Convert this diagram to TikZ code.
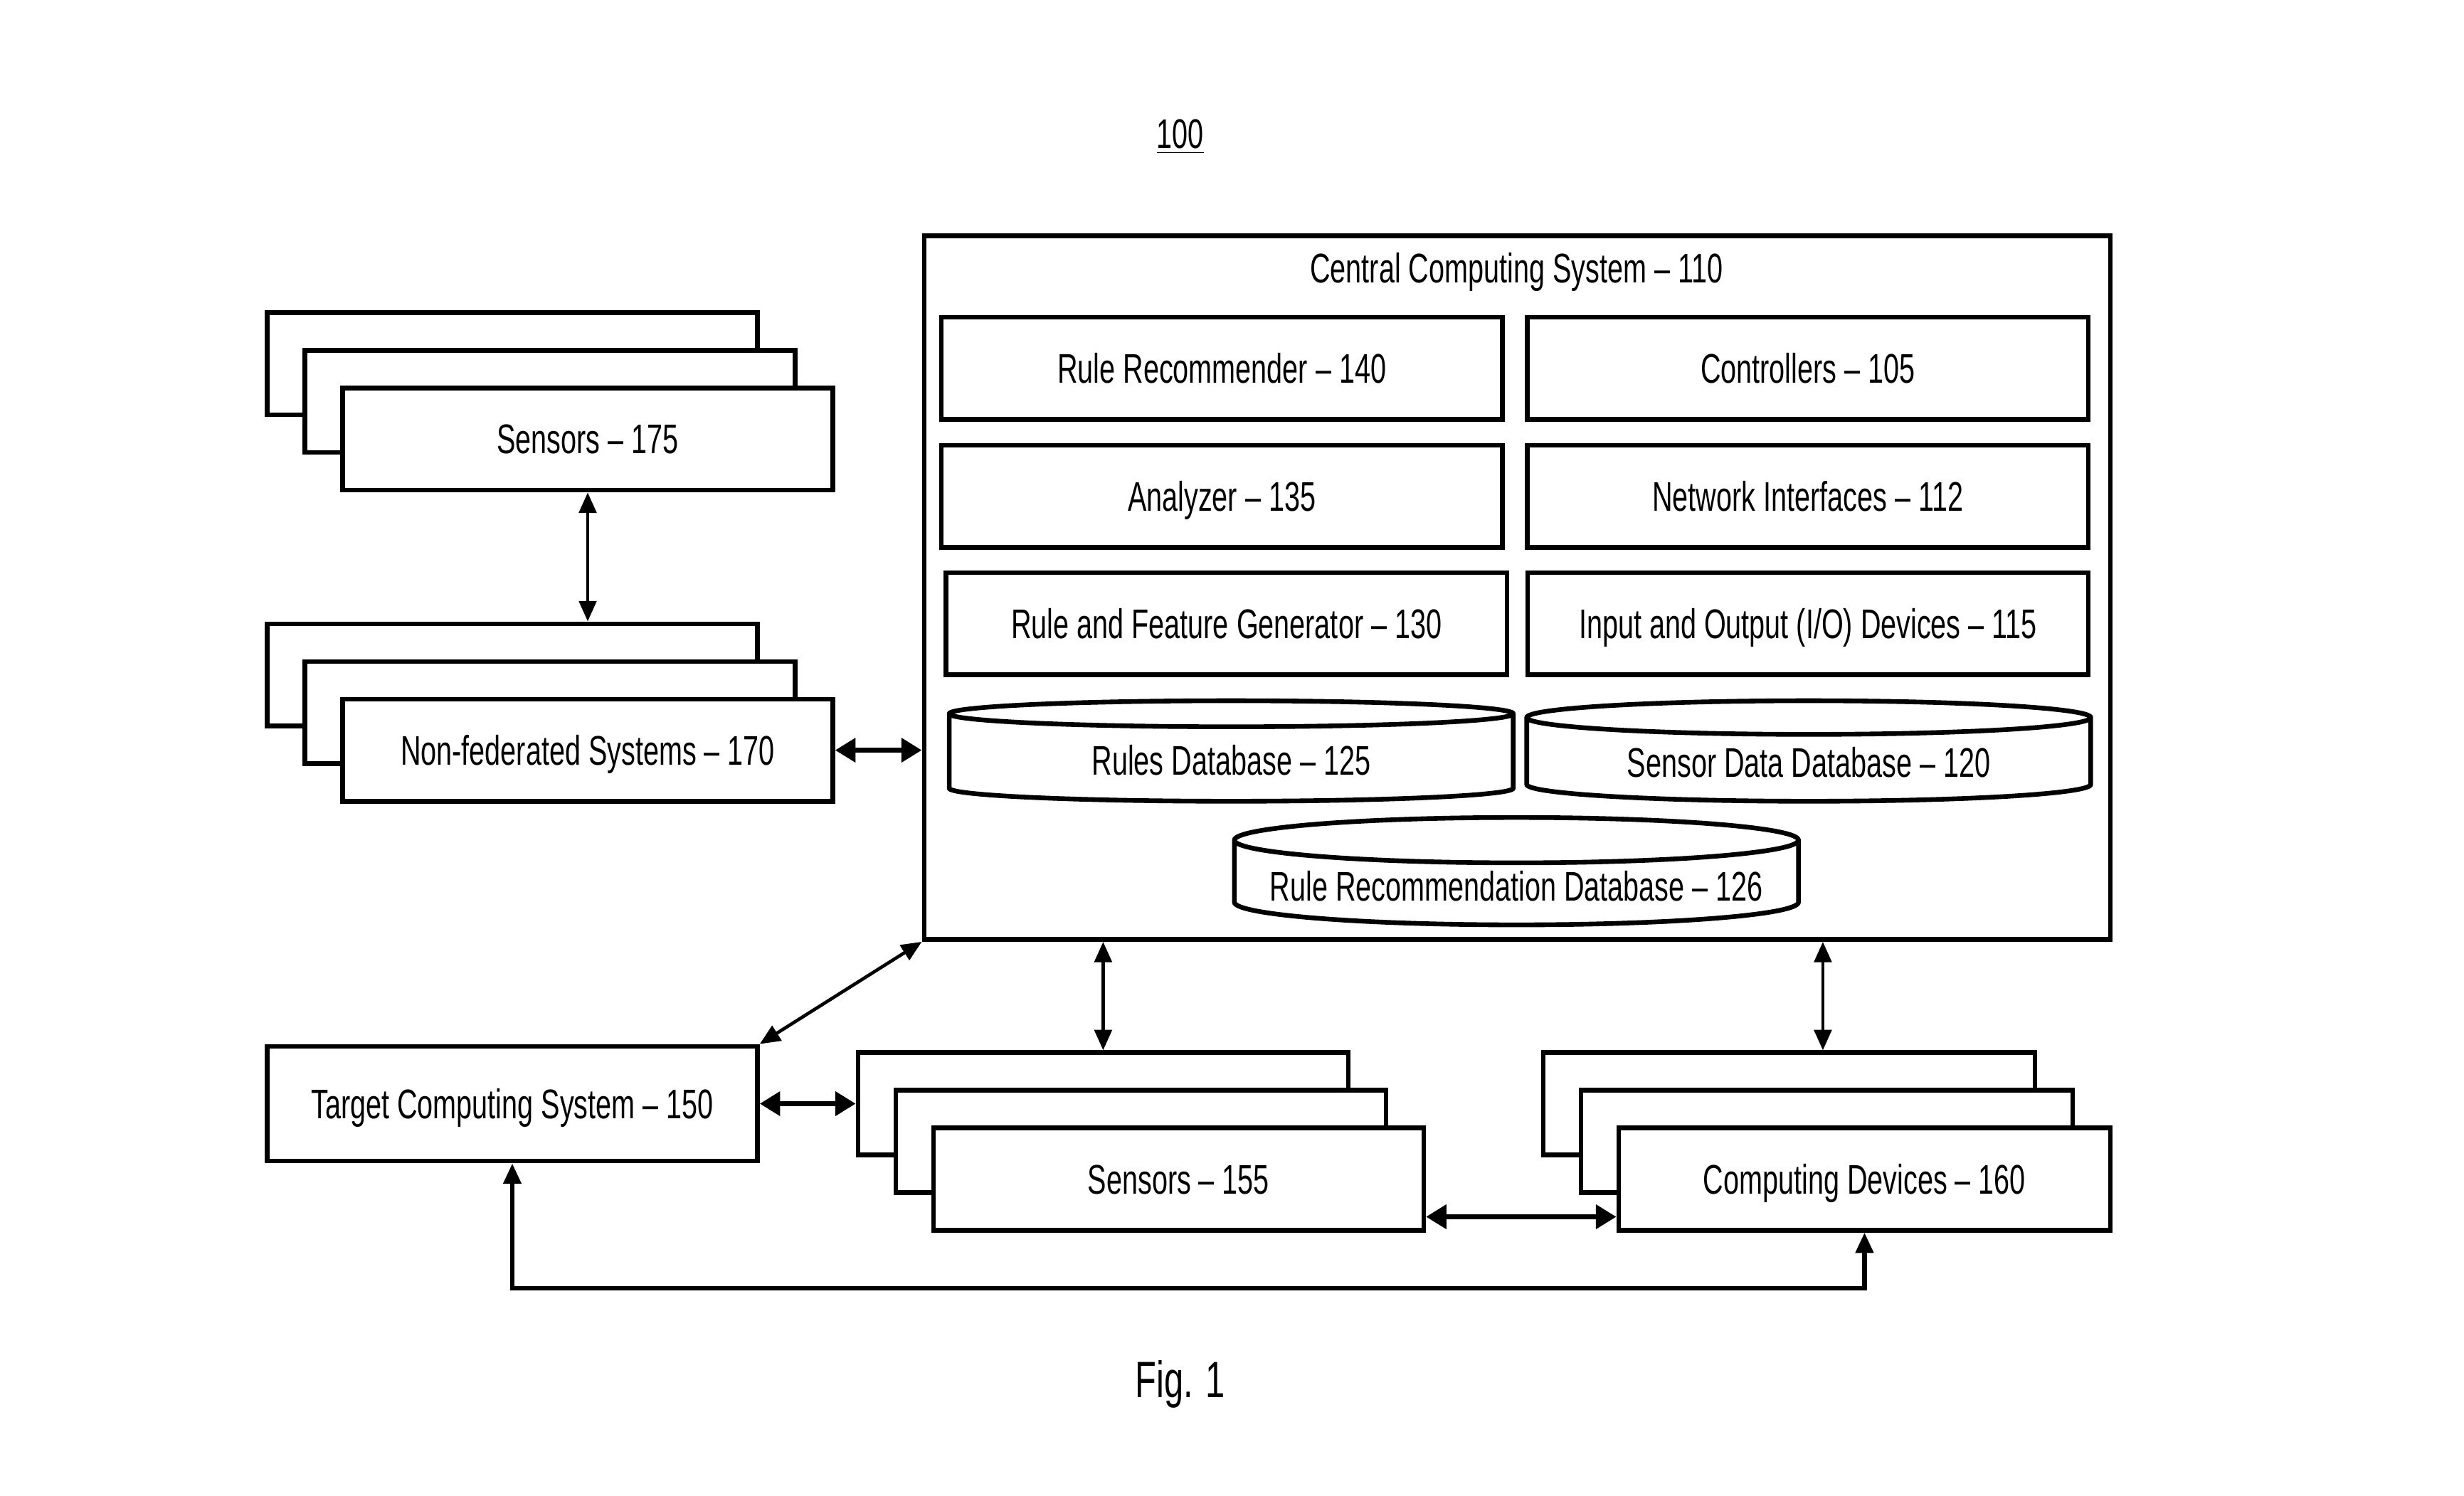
\documentclass[tikz,border=0pt]{standalone}
\usepackage{fontspec}
\setmainfont{Liberation Sans}[FakeStretch=0.68]
\usetikzlibrary{arrows.meta,positioning,shapes.geometric,calc}

\begin{document}
\begin{tikzpicture}[
        x=0.02cm, y=-0.02cm,
        font=\fontsize{15}{18}\selectfont,
        node distance=0.26cm,
        block/.style={draw, line width=1.7pt, fill=white, minimum width=7.14cm, minimum height=1.3cm, inner sep=2pt, text height=2.5ex, text depth=0.5ex},
        stackbox/.style={draw, line width=1.7pt, fill=white, minimum width=6.24cm, minimum height=1.3cm, inner sep=2pt, text height=2.5ex, text depth=0.5ex},
        dbase/.style={cylinder, shape border rotate=90, aspect=0.09, anchor=shape center, draw, line width=1.7pt, fill=white, minimum width=7.18cm, minimum height=1.28cm, inner sep=2pt},
        link/.style={line width=1.2pt, {Triangle[length=0.26cm,width=0.22cm]}-{Triangle[length=0.26cm,width=0.22cm]}},
        thicklink/.style={line width=1.8pt, {Triangle[length=0.26cm,width=0.3cm]}-{Triangle[length=0.26cm,width=0.3cm]}}
    ]
        \useasboundingbox (0,0) rectangle (1568,952);

        \node (fignum) at (751,87) {\underline{100}};

        % central computing system
        \node[draw, line width=1.7pt, minimum width=15.1cm, minimum height=8.96cm] (central) at (965.5,374) {};
        \node (centraltitle) at (965,173) {Central Computing System -- 110};

        \node[block] (recommender) at (777.5,234.5) {Rule Recommender -- 140};
        \node[block, right=of recommender] (controllers) {Controllers -- 105};
        \node[block] (analyzer) at (777.5,316) {Analyzer -- 135};
        \node[block, right=of analyzer] (netif) {Network Interfaces -- 112};
        \node[block] (generator) at (780.5,397) {Rule and Feature Generator -- 130};
        \node[block] (iodev) at (1150.5,397) {Input and Output (I/O) Devices -- 115};
        \node[dbase] (rulesdb) at (783.5,478) {Rules Database -- 125};
        \node[dbase] (sensordb) at (1151,478) {Sensor Data Database -- 120};
        \node[dbase] (recdb) at (965,554.5) {Rule Recommendation Database -- 126};

        % sensors 175
        \node[stackbox] (sens175c) at (326,231.5) {};
        \node[stackbox] (sens175b) at (350,255.5) {};
        \node[stackbox] (sens175) at (374,279.5) {Sensors -- 175};

        % non-federated systems
        \node[stackbox] (nonfedc) at (326,429.5) {};
        \node[stackbox] (nonfedb) at (350,453.5) {};
        \node[stackbox] (nonfed) at (374,477.5) {Non-federated Systems -- 170};

        \node[stackbox, minimum height=1.46cm] (target) at (326,702.5) {Target Computing System -- 150};

        % sensors 155
        \node[stackbox] (sens155c) at (702,702.5) {};
        \node[stackbox] (sens155b) at (726,726.5) {};
        \node[stackbox] (sens155) at (750,750.5) {Sensors -- 155};

        % computing devices
        \node[stackbox, minimum width=6.26cm] (devicesc) at (1138.5,702.5) {};
        \node[stackbox, minimum width=6.26cm] (devicesb) at (1162.5,726.5) {};
        \node[stackbox, minimum width=6.26cm] (devices) at (1186.5,750.5) {Computing Devices -- 160};

        \node[font=\fontsize{18.5}{22}\selectfont] (figlabel) at (751,881) {Fig. 1};

        \coordinate (devtop) at ($(devicesc.north)+(21.5,0)$);
        \coordinate (peer) at ($(sens155.south east)+(0,-10)$);
        \coordinate (loop) at (0,820);

        \draw[link] (sens175.south) -- (sens175.south |- nonfedc.north);
        \draw[thicklink] (nonfed.east) -- (nonfed.east -| central.west);
        \draw[link] (central.south west) -- (target.north east);
        \draw[thicklink] (target.east) -- (target.east -| sens155c.west);
        \draw[link] (sens155c.north |- central.south) -- (sens155c.north);
        \draw[link] (devtop |- central.south) -- (devtop);
        \draw[thicklink] (peer) -- (peer -| devices.west);
        \draw[link, line width=1.7pt] (target.south) -- (target.south |- loop) -| (devices.south);
    \end{tikzpicture}
\end{document}
